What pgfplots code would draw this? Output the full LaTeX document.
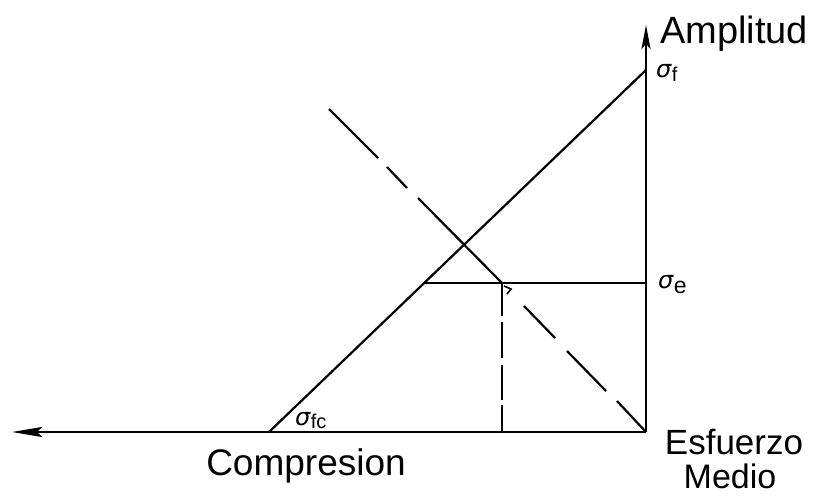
\documentclass[border=0pt]{standalone}
\usepackage{pgfplots}
\pgfplotsset{compat=1.18}
\usepackage{fontspec}
\setmainfont{Liberation Sans}
\newfontfamily\grk{DejaVu Sans}
\usetikzlibrary{arrows.meta}
\newcommand{\sig}[3]{{\grk\itshape\fontsize{24}{24}\selectfont σ}\kern0.5pt\raisebox{#1}{\fontsize{#2}{#2}\selectfont #3}}
\begin{document}
\begin{tikzpicture}
\begin{axis}[
  width=822pt, height=501pt, scale only axis,
  xmin=0, xmax=822, ymin=0, ymax=501, y dir=reverse,
  hide axis, clip=false,
  unbounded coords=jump,
  ln/.style={black, solid, no markers, line width=2.2pt},
]
% invisible frame to fix bounding box
\addplot[draw=none, no markers] coordinates {(0,0) (822,501)};
% horizontal axis (compression to the left)
\addplot[ln, -{Stealth[length=30pt,width=10pt,inset=5pt]}] coordinates {(646,432) (12,432)};
% vertical axis (amplitude)
\addplot[ln, -{Stealth[length=24pt,width=9pt,inset=5pt]}] coordinates {(646,432) (646,25)};
% solid line sigma_fc -> sigma_f
\addplot[ln] coordinates {(269,432) (646,70)};
% horizontal sigma_e line
\addplot[ln] coordinates {(423,283) (646,283)};
% dashed diagonal
\addplot[ln] coordinates {
(329,109) (378,158) (nan,nan)
(387,167) (407,188) (nan,nan)
(418,198) (502,283) (nan,nan)
(524,306) (555,338) (nan,nan)
(567,351) (606,391) (nan,nan)
(617,401) (646,432)};
% vertical dashed line
\addplot[ln] coordinates {
(502,283) (502,316) (nan,nan)
(502,322) (502,358) (nan,nan)
(502,365) (502,400) (nan,nan)
(502,405) (502,432)};
% small hook
\addplot[ln, line width=1.6pt] coordinates {(504,286) (511,289) (507,294)};
% labels
\node[anchor=base west, inner sep=0pt, font=\fontsize{38}{40}\selectfont] at (axis cs:660,43) {Amplitud};
\node[anchor=base, inner sep=0pt, font=\fontsize{37}{40}\selectfont] at (axis cs:306,475) {Compresion};
\node[anchor=base, inner sep=0pt, font=\fontsize{35}{38}\selectfont] at (axis cs:734,454) {Esfuerzo};
\node[anchor=base, inner sep=0pt, font=\fontsize{34}{38}\selectfont] at (axis cs:730,488) {Medio};
\node[anchor=base west, inner sep=0pt] at (axis cs:656,77) {\sig{-4pt}{20}{f}};
\node[anchor=base west, inner sep=0pt] at (axis cs:658,288) {\sig{-5pt}{23}{e}};
\node[anchor=base west, inner sep=0pt] at (axis cs:295,425) {\sig{-3pt}{20}{fc}};
\end{axis}
\end{tikzpicture}
\end{document}
